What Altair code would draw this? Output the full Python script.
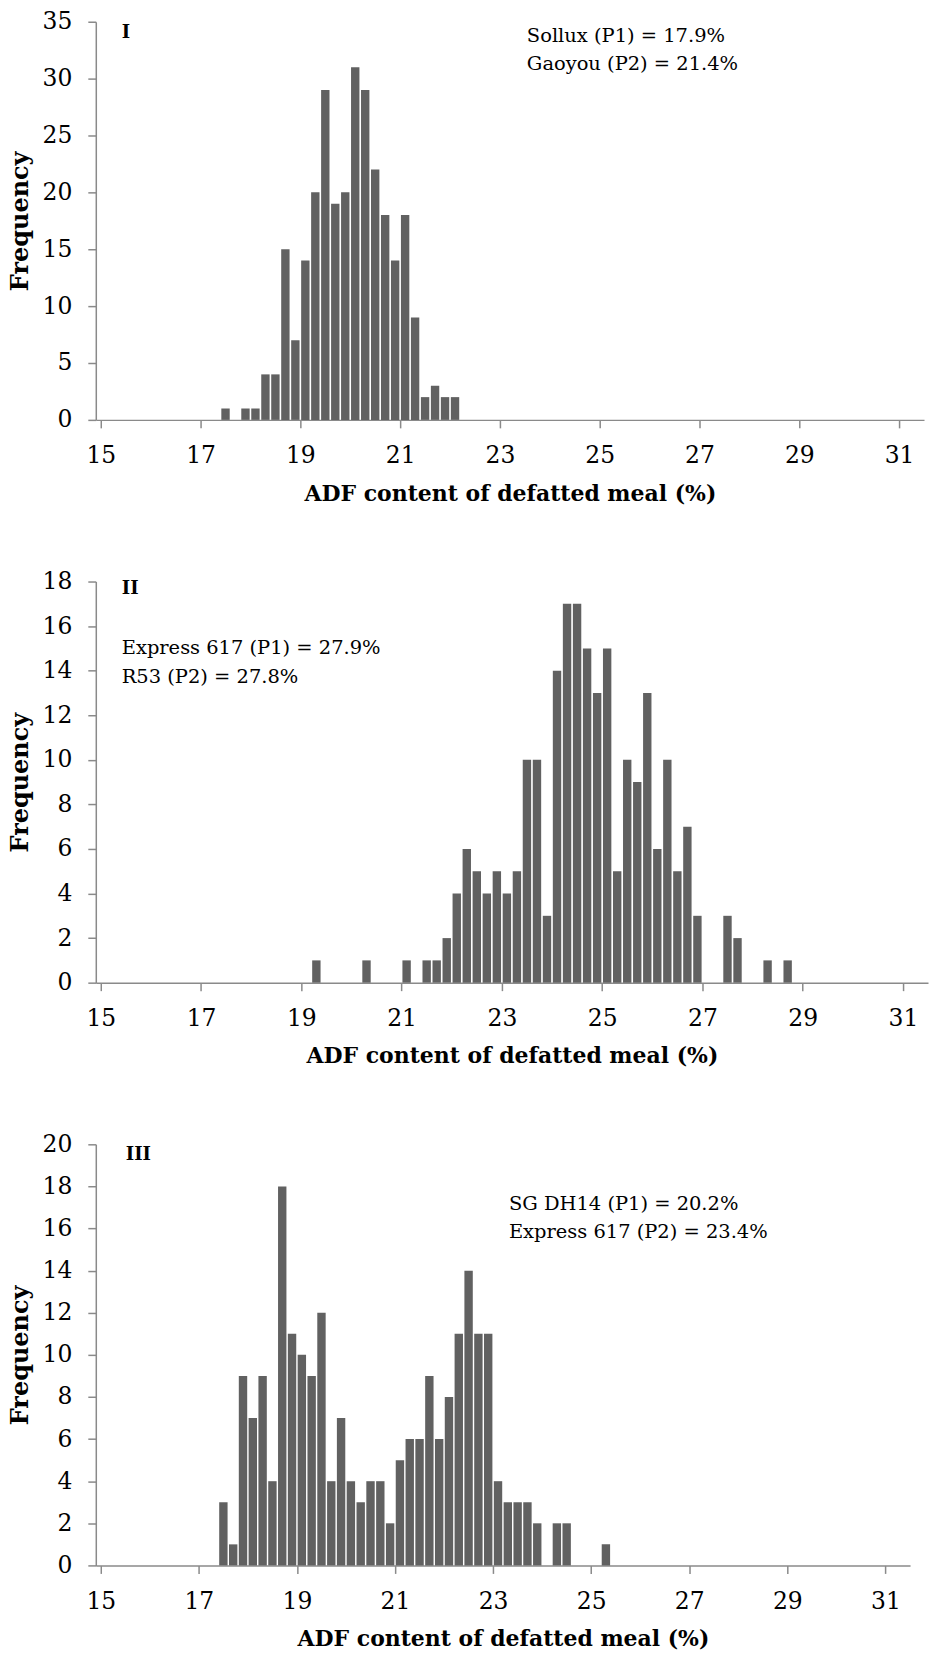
import altair as alt
import pandas as pd

# ---------------- data (bin centres, % ADF; counts) ----------------
bins_I = [17.5, 17.9, 18.1, 18.3, 18.5, 18.7, 18.9, 19.1, 19.3, 19.5, 19.7, 19.9,
          20.1, 20.3, 20.5, 20.7, 20.9, 21.1, 21.3, 21.5, 21.7, 21.9, 22.1]
counts_I = [1, 1, 1, 4, 4, 15, 7, 14, 20, 29, 19, 20,
            31, 29, 22, 18, 14, 18, 9, 2, 3, 2, 2]

bins_II = [19.3, 20.3, 21.1, 21.5, 21.7, 21.9, 22.1, 22.3, 22.5, 22.7, 22.9, 23.1,
           23.3, 23.5, 23.7, 23.9, 24.1, 24.3, 24.5, 24.7, 24.9, 25.1, 25.3, 25.5,
           25.7, 25.9, 26.1, 26.3, 26.5, 26.7, 26.9, 27.5, 27.7, 28.3, 28.7]
counts_II = [1, 1, 1, 1, 1, 2, 4, 6, 5, 4, 5, 4,
             5, 10, 10, 3, 14, 17, 17, 15, 13, 15, 5, 10,
             9, 13, 6, 10, 5, 7, 3, 3, 2, 1, 1]

bins_III = [17.5, 17.7, 17.9, 18.1, 18.3, 18.5, 18.7, 18.9, 19.1, 19.3, 19.5, 19.7,
            19.9, 20.1, 20.3, 20.5, 20.7, 20.9, 21.1, 21.3, 21.5, 21.7, 21.9, 22.1,
            22.3, 22.5, 22.7, 22.9, 23.1, 23.3, 23.5, 23.7, 23.9, 24.3, 24.5, 25.3]
counts_III = [3, 1, 9, 7, 9, 4, 18, 11, 10, 9, 12, 4,
              7, 4, 3, 4, 4, 2, 5, 6, 6, 9, 6, 8,
              11, 14, 11, 11, 4, 3, 3, 3, 2, 2, 2, 1]

x_ticks = [15, 17, 19, 21, 23, 25, 27, 29, 31]
panel_labels = ["I", "II", "III"]
notes_I = ["Sollux (P1) = 17.9%", "Gaoyou (P2) = 21.4%"]
notes_II = ["Express 617 (P1) = 27.9%", "R53 (P2) = 27.8%"]
notes_III = ["SG DH14 (P1) = 20.2%", "Express 617 (P2) = 23.4%"]
x_title = "ADF content of defatted meal (%)"
y_title = "Frequency"

FONT = "DejaVu Serif"
AXIS_COLOR = "#8a8a8a"
BAR_COLOR = "#616161"


def panel(bins, counts, ymax, ystep, width, height, label, notes,
          label_xy, note_x, note_y1, note_y2):
    df = pd.DataFrame({"adf": bins, "freq": counts})
    common_axis = dict(
        grid=False, domainColor=AXIS_COLOR, tickColor=AXIS_COLOR, domainWidth=1.5,
        tickWidth=1.5, tickSize=8, labelFont=FONT, labelFontSize=23.5,
        labelColor="black", titleFont=FONT, titleFontWeight="bold",
        titleColor="black", labelPadding=16,
    )
    bars = alt.Chart(df).mark_bar(color=BAR_COLOR, size=8.4).encode(
        x=alt.X("adf:Q",
                scale=alt.Scale(domain=[15, 31.4], nice=False, zero=False),
                axis=alt.Axis(values=x_ticks, title=x_title, titlePadding=16,
                              titleFontSize=22, labelFlush=False, **common_axis)),
        y=alt.Y("freq:Q",
                scale=alt.Scale(domain=[0, ymax], nice=False),
                axis=alt.Axis(values=list(range(0, ymax + 1, ystep)), title=y_title,
                              titleFontSize=24, titlePadding=10, **common_axis)),
    )
    lab = alt.Chart(pd.DataFrame({"t": [label]})).mark_text(
        font=FONT, fontSize=18, fontWeight="bold", align="left", baseline="middle",
        color="black",
    ).encode(x=alt.value(label_xy[0]), y=alt.value(label_xy[1]), text="t:N")
    n1 = alt.Chart(pd.DataFrame({"t": [notes[0]]})).mark_text(
        font=FONT, fontSize=19.5, align="left", baseline="middle", color="black",
    ).encode(x=alt.value(note_x), y=alt.value(note_y1), text="t:N")
    n2 = alt.Chart(pd.DataFrame({"t": [notes[1]]})).mark_text(
        font=FONT, fontSize=19.5, align="left", baseline="middle", color="black",
    ).encode(x=alt.value(note_x), y=alt.value(note_y2), text="t:N")
    return alt.layer(bars, lab, n1, n2).properties(width=width, height=height)


p1 = panel(bins_I, counts_I, 35, 5, 830, 399, panel_labels[0], notes_I,
           (26, 11), 432, 14, 42)
p2 = panel(bins_II, counts_II, 18, 2, 834, 402, panel_labels[1], notes_II,
           (26, 7), 26, 67, 96)
p3 = panel(bins_III, counts_III, 20, 2, 816, 422, panel_labels[2], notes_III,
           (30, 11), 414, 60, 88)

chart = alt.vconcat(p1, p2, p3, spacing=65).properties(
    padding={"top": 8, "left": 8, "right": 4, "bottom": 4}
).configure_view(stroke=None)

chart.save("out.html", embed_options={"renderer": "svg", "actions": False})
